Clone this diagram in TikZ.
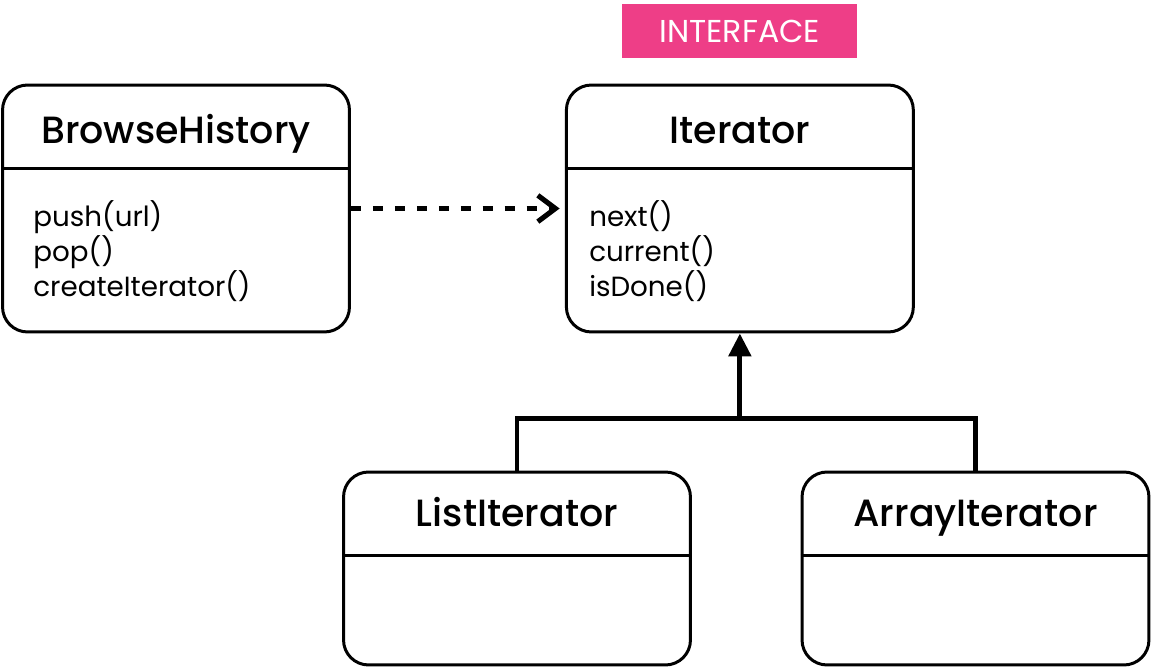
\documentclass[tikz,border=0pt]{standalone}
\usepackage{fontspec}
\setmainfont{Poppins}
\newfontfamily\titlefont{Poppins Medium}
\usetikzlibrary{arrows.meta, positioning, calc}
\definecolor{tagpink}{RGB}{238,62,135}

\begin{document}
\begin{tikzpicture}[
        x=0.02cm, y=0.02cm,
        classbox/.style={rectangle, draw=black, line width=1.7pt, rounded corners=0.5cm, minimum width=6.94cm, minimum height=4.94cm},
        smallbox/.style={classbox, minimum height=3.86cm},
        divider/.style={line width=1.7pt},
        classname/.style={font=\titlefont\fontsize{21.6}{25}\selectfont, inner sep=0pt, anchor=base},
        methods/.style={font=\fontsize{15.8}{19.9}\selectfont, align=left, inner sep=0pt, anchor=north west},
        tag/.style={rectangle, fill=tagpink, text=white, minimum width=4.7cm, minimum height=1.08cm, font=\fontsize{18}{21}\selectfont},
        depends/.style={line width=2.9pt, dash pattern=on 5.7pt off 6.8pt, -{Straight Barb[length=10pt, width=15pt]}},
        realize/.style={line width=2.8pt}
    ]
        \useasboundingbox (0,0) rectangle (1154,670);

        \node[classbox] (browse) at (176,461.5) {};
        \node[classbox, right=4.28cm of browse] (iter) {};
        \node[smallbox] (list) at (517,101.5) {};
        \node[smallbox] (array) at (975.5,101.5) {};
        \node[tag, above=0.5cm of iter] (tag) {INTERFACE};

        \node[classname] (browsename) at ([yshift=-1.2cm]browse.north) {BrowseHistory};
        \node[classname] (itername) at ([yshift=-1.2cm]iter.north) {Iterator};
        \node[classname] (listname) at ([yshift=-1.12cm]list.north) {ListIterator};
        \node[classname] (arrayname) at ([yshift=-1.12cm]array.north) {ArrayIterator};

        \foreach \cls in {browse, iter, list, array}
            \draw[divider] ([yshift=-1.7cm]\cls.north west) -- ([yshift=-1.7cm]\cls.north east);

        \node[methods] (browseops) at ([xshift=0.64cm, yshift=-2.34cm]browse.north west) {push(url)\\pop()\\createIterator()};
        \node[methods] (iterops) at ([xshift=0.48cm, yshift=-2.34cm]iter.north west) {next()\\current()\\isDone()};

        \draw[depends, shorten >=3pt] (browse) -- (iter);

        \coordinate (bus) at ($(list.north)+(0,52)$);
        \draw[realize] (list.north) -- (bus) -| (array.north);
        \draw[realize, -{Triangle[length=13pt, width=12.5pt]}] (bus -| iter.south) -- (iter.south);
    \end{tikzpicture}
\end{document}
